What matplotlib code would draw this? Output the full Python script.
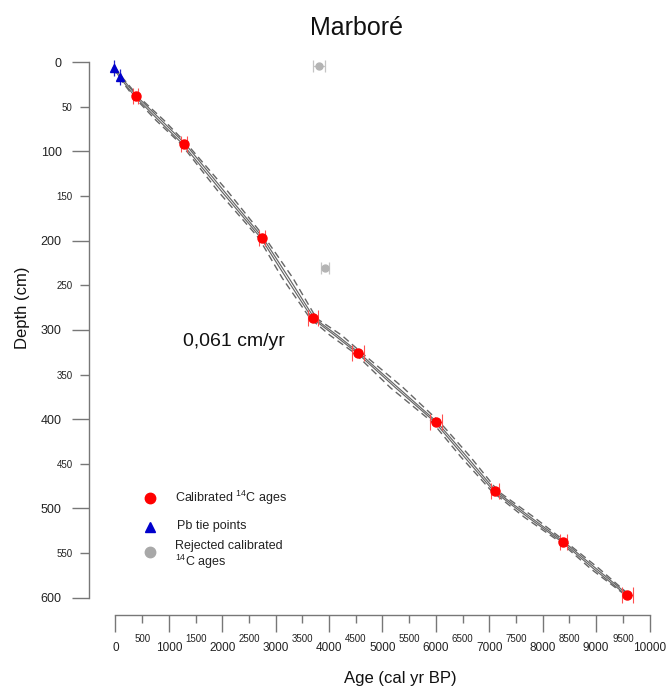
import matplotlib
matplotlib.use("Agg")
import matplotlib.pyplot as plt
from matplotlib.lines import Line2D
from matplotlib.ticker import FixedLocator, FixedFormatter

plt.rcParams['font.family'] = ['Liberation Sans', 'DejaVu Sans']
plt.rcParams['mathtext.fontset'] = 'custom'
plt.rcParams['mathtext.rm'] = 'Liberation Sans'
plt.rcParams['mathtext.it'] = 'Liberation Sans'

# calibrated 14C ages (cal yr BP) and depths (cm)
c14_age = [378, 1288, 2743, 3704, 4547, 5996, 7107, 8386, 9581]
c14_depth = [38, 92, 197, 287, 326, 403, 481, 538, 597]
c14_err = [50, 56, 56, 94, 110, 115, 78, 70, 103]

# Pb tie points
pb_age = [-28, 84]
pb_depth = [6, 16]

# rejected ages
rej_age = [3816, 3923]
rej_depth = [4, 231]
rej_err = [110, 70]

# age-depth model: two inner solid lines and dashed bounds
model_depth = [6, 16, 38, 65, 92, 145, 197, 242, 287, 306, 326, 365, 403, 442, 481, 510, 538, 568, 597]
inner_young = [-38, 69, 358, 808, 1263, 1991, 2723, 3199, 3684, 4101, 4527, 5247, 5976, 6527, 7087, 7722, 8366, 8959, 9561]
inner_old = [-18, 99, 398, 858, 1313, 2041, 2763, 3249, 3724, 4151, 4567, 5297, 6016, 6577, 7127, 7772, 8406, 9009, 9601]
dash_young = [-48, 54, 333, 758, 1233, 1926, 2683, 3124, 3644, 4016, 4477, 5152, 5926, 6462, 7047, 7657, 8331, 8904, 9541]
dash_old = [-8, 114, 423, 908, 1343, 2106, 2803, 3324, 3764, 4236, 4617, 5392, 6066, 6642, 7167, 7837, 8441, 9064, 9621]

x_major = list(range(0, 10001, 1000))
x_minor = list(range(500, 10000, 1000))
y_major = list(range(0, 601, 100))
y_minor = list(range(50, 600, 100))

W, H = 669, 693
fig = plt.figure(figsize=(W / 100, H / 100), dpi=100)
ax = fig.add_axes([104.8 / W, 1 - 610.9 / H, 555.4 / W, 562.0 / H])

line_col = '#666666'
ax.plot(inner_young, model_depth, color=line_col, lw=0.85)
ax.plot(inner_old, model_depth, color=line_col, lw=0.85)
ax.plot(dash_young, model_depth, color=line_col, lw=1.0, dashes=(5, 3))
ax.plot(dash_old, model_depth, color=line_col, lw=1.0, dashes=(5, 3))

ax.errorbar(rej_age, rej_depth, xerr=rej_err, fmt='o', color='#b4b4b4', ms=5,
            ecolor='#c4c4c4', elinewidth=0.9, capsize=4.3, capthick=0.9)
ax.errorbar(c14_age, c14_depth, xerr=c14_err, fmt='o', color='#ff0000', ms=6.5,
            ecolor='#ff5050', elinewidth=0.8, capsize=5.8, capthick=0.8, zorder=5)
ax.errorbar(pb_age, pb_depth, xerr=25, yerr=9, fmt='^', color='#0000cc', ms=6,
            ecolor='#2020cc', elinewidth=0.9, capsize=0, zorder=5)

ax.set_xlim(-200, 10200)
ax.set_ylim(615, -15)

for s in ['top', 'right']:
    ax.spines[s].set_visible(False)
ax.spines['left'].set_position(('outward', 11.2))
ax.spines['bottom'].set_position(('outward', 2.95))
ax.spines['left'].set_bounds(0, 600)
ax.spines['bottom'].set_bounds(0, 10000)
for s in ['left', 'bottom']:
    ax.spines[s].set_color('#777777')
    ax.spines[s].set_linewidth(1.0)

ax.xaxis.set_major_locator(FixedLocator(x_major))
ax.xaxis.set_minor_locator(FixedLocator(x_minor))
ax.xaxis.set_major_formatter(FixedFormatter([str(v) for v in x_major]))
ax.xaxis.set_minor_formatter(FixedFormatter([str(v) for v in x_minor]))
ax.yaxis.set_major_locator(FixedLocator(y_major))
ax.yaxis.set_minor_locator(FixedLocator(y_minor))
ax.yaxis.set_major_formatter(FixedFormatter([str(v) for v in y_major]))
ax.yaxis.set_minor_formatter(FixedFormatter([str(v) for v in y_minor]))

ax.tick_params(axis='x', which='major', length=12, width=1.0, color='#777777',
               labelsize=8.5, pad=7.3, labelcolor='#222222')
ax.tick_params(axis='x', which='minor', length=6, width=1.0, color='#777777',
               labelsize=7, pad=7.8, labelcolor='#222222')
ax.tick_params(axis='y', which='major', length=12.6, width=1.0, color='#777777',
               labelsize=9, pad=7.2, labelcolor='#222222')
ax.tick_params(axis='y', which='minor', length=6.8, width=1.0, color='#777777',
               labelsize=7, pad=5.3, labelcolor='#222222')

fig.text(357 / W, 1 - 28 / H, 'Marboré', fontsize=18, ha='center', va='center', color='#111111')
fig.text(23 / W, 1 - 308 / H, 'Depth (cm)', fontsize=12, rotation=90,
         ha='center', va='center', color='#111111')
fig.text(400 / W, 1 - 678 / H, 'Age (cal yr BP)', fontsize=12, ha='center', va='center',
         color='#111111')
fig.text(183 / W, 1 - 342 / H, '0,061 cm/yr', fontsize=14, ha='left', va='center',
         color='#111111')

# legend
fig.add_artist(Line2D([150 / W], [1 - 498 / H], marker='o', color='#ff0000', ms=7.5, ls=''))
fig.add_artist(Line2D([150 / W], [1 - 527 / H], marker='^', color='#0000cc', ms=6.5, ls=''))
fig.add_artist(Line2D([150 / W], [1 - 552 / H], marker='o', color='#a8a8a8', ms=7.5, ls=''))
fig.text(175 / W, 1 - 497.5 / H, r'Calibrated $^{14}$C ages', fontsize=9, ha='left',
         va='center', color='#222222')
fig.text(177 / W, 1 - 526 / H, 'Pb tie points', fontsize=9, ha='left', va='center',
         color='#222222')
fig.text(175 / W, 1 - 546 / H, 'Rejected calibrated', fontsize=9, ha='left', va='center',
         color='#222222')
fig.text(175 / W, 1 - 562 / H, r'$^{14}$C ages', fontsize=9, ha='left', va='center',
         color='#222222')

fig.savefig('out.png', dpi=100, facecolor='white')
